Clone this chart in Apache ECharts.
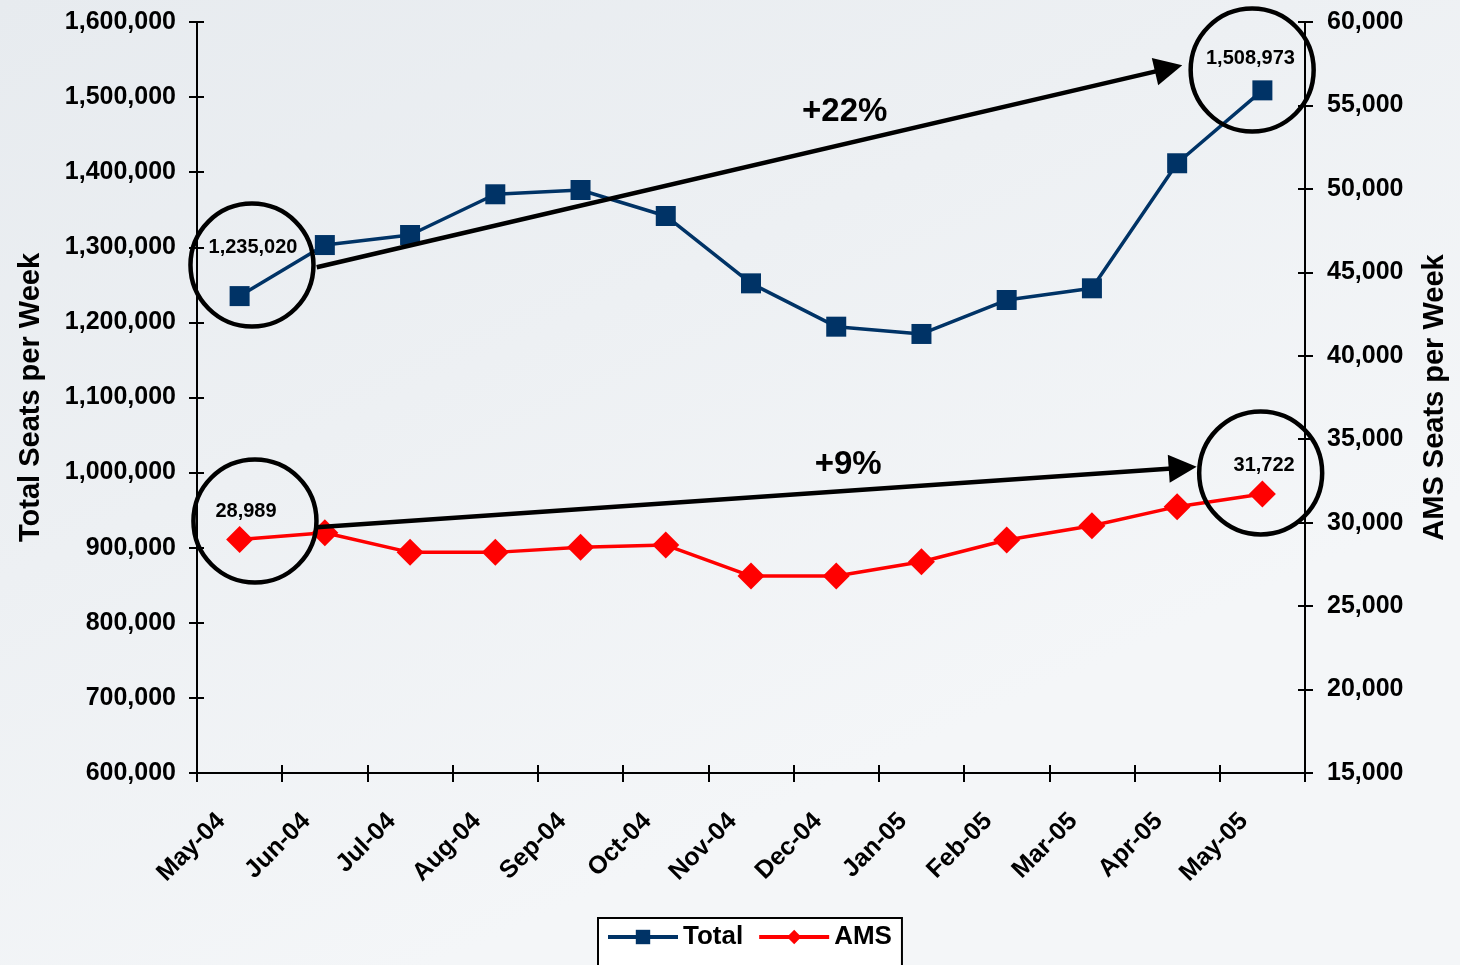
<!DOCTYPE html>
<html>
<head>
<meta charset="utf-8">
<script src="https://cdn.jsdelivr.net/npm/echarts@6/dist/echarts.min.js"></script>
<style>
html,body{margin:0;padding:0;}
#c{width:1460px;height:965px;}
</style>
</head>
<body>
<div id="c"></div>
<script>
// ---- data ----
const months = ['May-04','Jun-04','Jul-04','Aug-04','Sep-04','Oct-04','Nov-04','Dec-04','Jan-05','Feb-05','Mar-05','Apr-05','May-05'];
const totalSeats = [1235020,1303000,1316400,1370600,1376300,1341700,1252000,1194300,1184600,1229800,1245400,1411900,1508973];
const amsSeats = [28989,29400,28220,28220,28520,28660,26800,26800,27660,28960,29820,30960,31722];
const leftTicks = {min:600000, max:1600000, step:100000};
const rightTicks = {min:15000, max:60000, step:5000};
const growthLabels = ['+22%','+9%'];
// annotation anchors in data space: [category position, value]
const totalArrow = [[0.905,1273400],[10.9,1538300]];
const amsArrow = [[0.905,29720],[11.065,33290]];
const totalCircles = [[0.145,1276400],[11.88,1536100]];
const amsCircles = [[0.18,30100],[11.98,32980]];
const totalLabelPos = [[0.157,1300400],[11.86,1552000]];
const amsLabelPos = [[0.075,30700],[12.02,33400]];
const growthPos = [[7.10,1480200],[7.14,33450]];

const fmt = v => String(Math.round(v)).replace(/\B(?=(\d{3})+(?!\d))/g, ',');
const FONT = 'Liberation Sans, Arial, sans-serif';

const chart = echarts.init(document.getElementById('c'), null, {renderer:'canvas'});

const axisLineStyle = {show:true, onZero:false, lineStyle:{color:'#000', width:2}};
const hiddenLine = {show:true, onZero:false, lineStyle:{color:'rgba(0,0,0,0)', width:0}};
const yBase = (o, pos) => ({
  type:'value', position:pos, min:o.min, max:o.max, interval:o.step,
  splitLine:{show:false},
  axisLine:axisLineStyle
});

const labelSeries = (name, yIdx, items, size, color) => ({
  name, type:'scatter', xAxisIndex:2, yAxisIndex:yIdx,
  data: items.map(it => ({value:it[0], label:{formatter:it[1]}})),
  symbolSize:0, itemStyle:{color:'rgba(0,0,0,0)', opacity:1},
  label:{show:true, position:'inside', color:color, opacity:1, fontWeight:'bold', fontSize:size, fontFamily:FONT},
  z:7, animation:false, silent:true
});

const option = {
  backgroundColor: {
    type:'linear', x:0, y:0, x2:0.3, y2:1,
    colorStops:[{offset:0,color:'#e7ebef'},{offset:0.5,color:'#edf0f3'},{offset:1,color:'#f4f6f8'}]
  },
  textStyle:{fontFamily:FONT},
  grid:{left:197, right:155, top:22, bottom:192, containLabel:false, outerBoundsMode:'none'},
  legend:{
    data:['Total','AMS'],
    left:598, top:918,
    backgroundColor:'#fff', borderColor:'#000', borderWidth:2, borderRadius:0,
    padding:[6,10,24,8],
    itemWidth:70, itemHeight:18, itemGap:14,
    lineStyle:{width:4},
    textStyle:{fontFamily:FONT, fontWeight:'bold', fontSize:26, color:'#000'}
  },
  xAxis:[
    {
      type:'category', data:months, position:'bottom', boundaryGap:true,
      axisLine:axisLineStyle,
      axisTick:{show:true, inside:false, length:9, lineStyle:{color:'#000', width:2}},
      axisLabel:{interval:0, rotate:45, margin:26, padding:[0,26,0,0], color:'#000', fontWeight:'bold', fontSize:25, fontFamily:FONT},
      splitLine:{show:false}
    },
    {
      type:'category', data:months, position:'bottom', boundaryGap:true, offset:-8,
      axisLine:hiddenLine,
      axisTick:{show:true, inside:false, length:16, lineStyle:{color:'#000', width:2}},
      axisLabel:{show:false}, splitLine:{show:false}
    },
    {
      type:'value', min:-0.5, max:12.5, show:false, position:'bottom',
      axisLine:{onZero:false}, splitLine:{show:false}
    }
  ],
  yAxis:[
    Object.assign(yBase(leftTicks,'left'), {
      name:'Total Seats per Week', nameLocation:'middle', nameGap:152,
      nameTextStyle:{fontFamily:FONT, fontWeight:'bold', fontSize:29, color:'#000'},
      axisTick:{show:true, inside:false, length:8, lineStyle:{color:'#000', width:2}},
      axisLabel:{margin:21, color:'#000', fontWeight:'bold', fontSize:25, fontFamily:FONT, formatter:fmt}
    }),
    Object.assign(yBase(rightTicks,'right'), {
      name:'AMS Seats per Week', nameLocation:'middle', nameGap:115,
      nameTextStyle:{fontFamily:FONT, fontWeight:'bold', fontSize:29, color:'#000'},
      axisTick:{show:true, inside:false, length:8, lineStyle:{color:'#000', width:2}},
      axisLabel:{margin:22, color:'#000', fontWeight:'bold', fontSize:25, fontFamily:FONT, formatter:fmt}
    }),
    Object.assign(yBase(leftTicks,'left'), {
      offset:-7, axisLine:hiddenLine,
      axisTick:{show:true, inside:false, length:15, lineStyle:{color:'#000', width:2}},
      axisLabel:{show:false}
    }),
    Object.assign(yBase(rightTicks,'right'), {
      offset:-7, axisLine:hiddenLine,
      axisTick:{show:true, inside:false, length:15, lineStyle:{color:'#000', width:2}},
      axisLabel:{show:false}
    })
  ],
  series:[
    {
      name:'Total', type:'line', xAxisIndex:0, yAxisIndex:0, data:totalSeats,
      symbol:'rect', symbolSize:20, color:'#003366',
      itemStyle:{color:'#003366'}, lineStyle:{color:'#003366', width:3.5},
      z:3, animation:false
    },
    {
      name:'AMS', type:'line', xAxisIndex:0, yAxisIndex:1, data:amsSeats,
      symbol:'diamond', symbolSize:27, color:'#ff0000',
      itemStyle:{color:'#ff0000'}, lineStyle:{color:'#ff0000', width:3.5},
      z:3, animation:false
    },
    {
      name:'totalArrow', type:'lines', coordinateSystem:'cartesian2d', xAxisIndex:2, yAxisIndex:0,
      data:[{coords:totalArrow}], symbol:['none','triangle'], symbolSize:[28,28],
      lineStyle:{color:'#000', width:4.5, opacity:1}, itemStyle:{color:'#000'}, z:5, animation:false, silent:true
    },
    {
      name:'amsArrow', type:'lines', coordinateSystem:'cartesian2d', xAxisIndex:2, yAxisIndex:1,
      data:[{coords:amsArrow}], symbol:['none','triangle'], symbolSize:[28,28],
      lineStyle:{color:'#000', width:4.5, opacity:1}, itemStyle:{color:'#000'}, z:5, animation:false, silent:true
    },
    {
      name:'totalCircles', type:'scatter', xAxisIndex:2, yAxisIndex:0, data:totalCircles,
      symbol:'circle', symbolSize:123,
      itemStyle:{color:'rgba(0,0,0,0)', borderColor:'#000', borderWidth:4.5, opacity:1},
      z:6, animation:false, silent:true
    },
    {
      name:'amsCircles', type:'scatter', xAxisIndex:2, yAxisIndex:1, data:amsCircles,
      symbol:'circle', symbolSize:123,
      itemStyle:{color:'rgba(0,0,0,0)', borderColor:'#000', borderWidth:4.5, opacity:1},
      z:6, animation:false, silent:true
    },
    labelSeries('totalLabels', 0, [
      [totalLabelPos[0], fmt(totalSeats[0])],
      [totalLabelPos[1], fmt(totalSeats[totalSeats.length-1])]
    ], 20, '#000'),
    labelSeries('amsLabels', 1, [
      [amsLabelPos[0], fmt(amsSeats[0])],
      [amsLabelPos[1], fmt(amsSeats[amsSeats.length-1])]
    ], 20, '#000'),
    labelSeries('growthTotal', 0, [[growthPos[0], growthLabels[0]]], 33, '#000'),
    labelSeries('growthAms', 1, [[growthPos[1], growthLabels[1]]], 33, '#000')
  ]
};
chart.setOption(option);
</script>
</body>
</html>
